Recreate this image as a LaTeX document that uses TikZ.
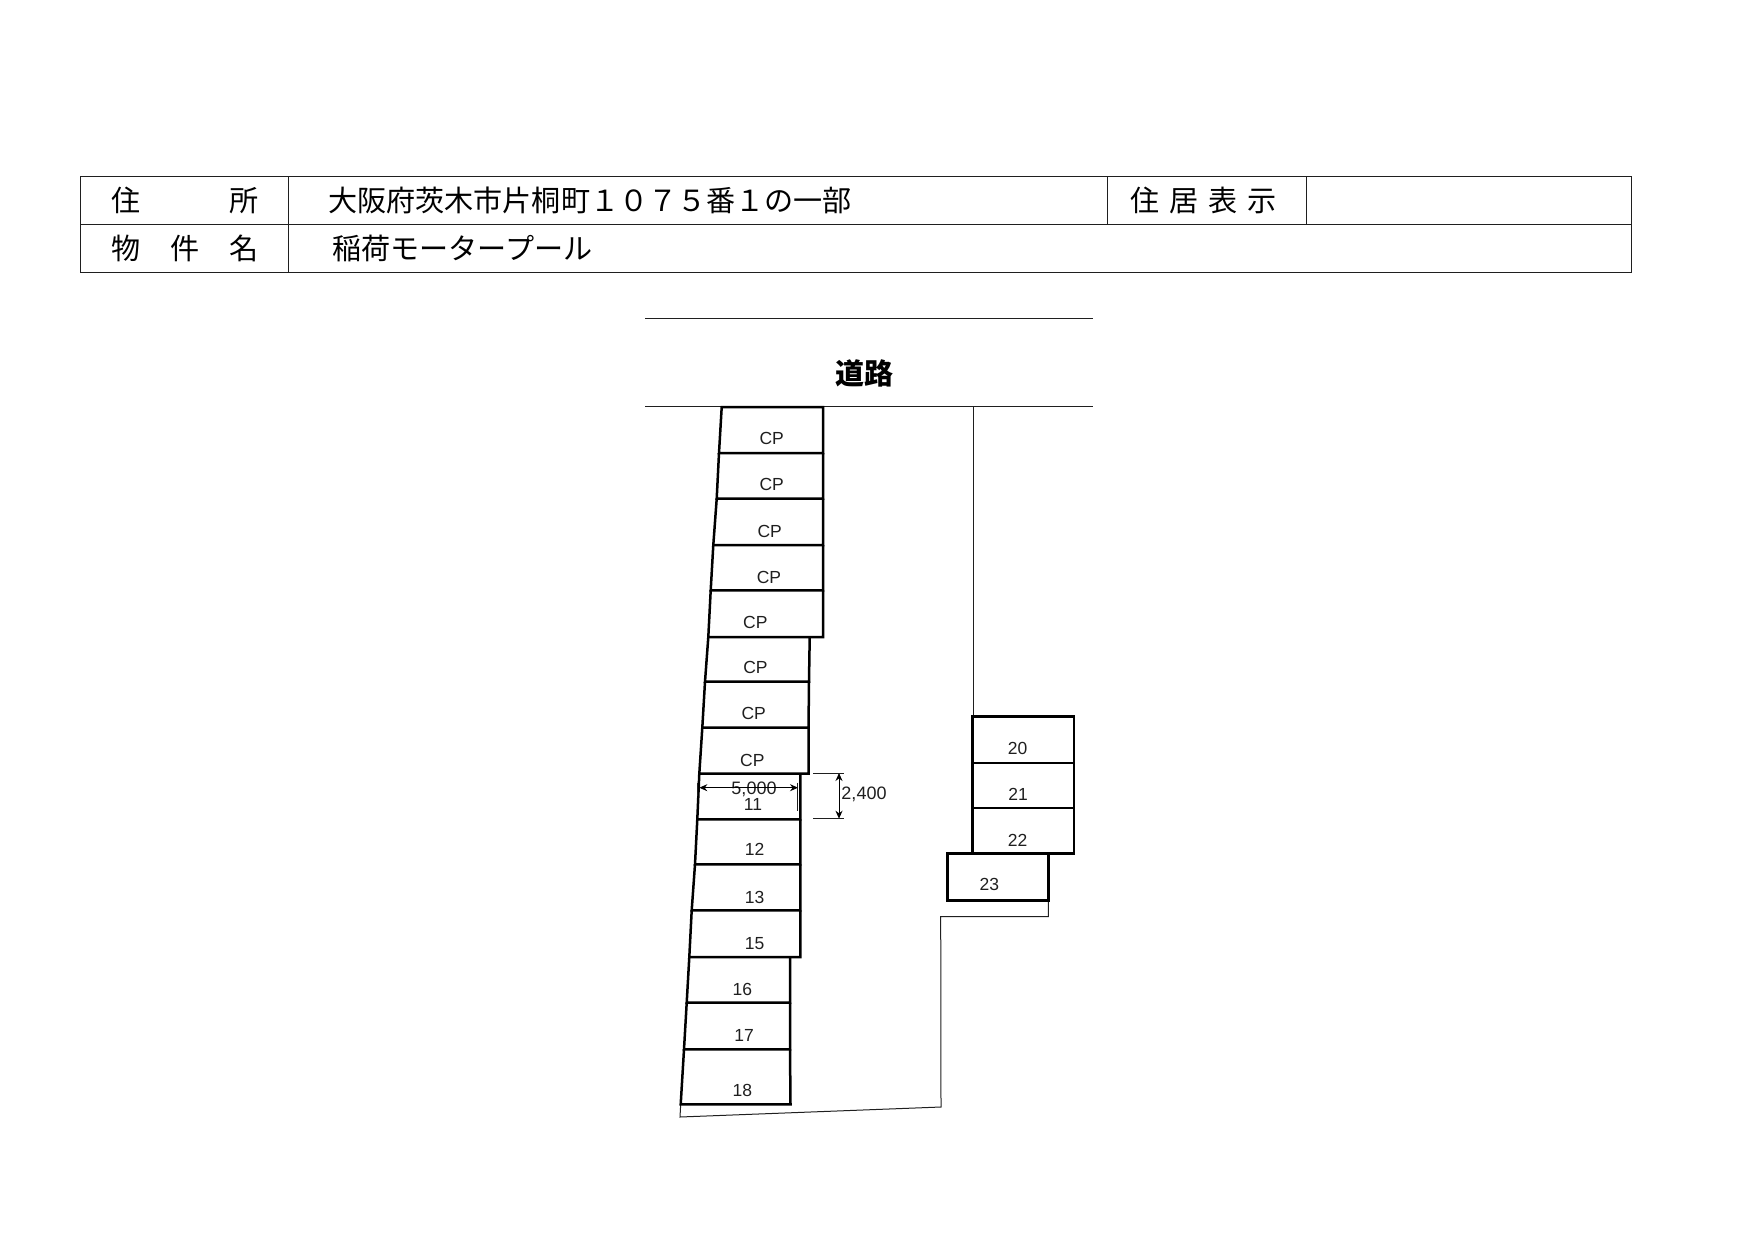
\documentclass[tikz,border=0pt]{standalone}
\usepackage{fontspec}
\setmainfont{Liberation Sans}
\newfontfamily\jpfont{Noto Sans CJK JP}
\usepackage{tikz}
\usetikzlibrary{arrows.meta}
\definecolor{inkline}{gray}{0.12}
\tikzset{
  hline/.style={draw=inkline, line width=1.1pt},
  thinline/.style={draw=inkline, line width=1pt},
  stall/.style={draw=black, line width=2.5pt, line join=miter},
  dimline/.style={draw=inkline, line width=0.9pt},
  dimarrow/.style={draw=black, line width=1pt, {Stealth[length=8pt,width=7pt]}-{Stealth[length=8pt,width=7pt]}},
  headtext/.style={inner sep=0pt, anchor=west, font=\jpfont\fontsize{29.1}{31}\selectfont},
  lot/.style={inner sep=0pt, text=inkline, font=\fontsize{17.5}{19}\selectfont}
}

\begin{document}
\begin{tikzpicture}[x=1pt,y=-1pt]
      \useasboundingbox (0,0) rectangle (1755,1242);
      
      % header table
      \draw[hline] (80.5,176.5) rectangle (1631.5,272.5);
      \draw[hline] (80.5,224.5) -- (1631.5,224.5);
      \draw[hline] (288.5,176.5) -- (288.5,272.5);
      \draw[hline] (1107.5,176.5) -- (1107.5,224.5);
      \draw[hline] (1306.5,176.5) -- (1306.5,224.5);
      
      \node[headtext] (adrhead) at (111,200.5)   {住\hspace{89pt}所};
      \node[headtext] (adrtext) at (328,200.5)   {大阪府茨木市片桐町１０７５番１の一部};
      \node[headtext] (dsphead) at (1130,200.5)  {住\hspace{10pt}居\hspace{10pt}表\hspace{10pt}示};
      \node[headtext] (namhead) at (111,248.5)   {物\hspace{30pt}件\hspace{30pt}名};
      \node[headtext] (namtext) at (332,248.5)   {稲荷モータープール};
      
      % road
      \draw[thinline] (645,318.5) -- (1092.5,318.5);
      \draw[thinline] (645,406.5) -- (1092.5,406.5);
      \node[inner sep=0pt, font=\jpfont\bfseries\fontsize{29}{31}\selectfont] (road) at (864,373) {道路};
      
      \begin{scope}[yshift=-1pt]
      % site boundary
      \coordinate (bndA) at (973.3,405.5);
      \coordinate (bndB) at (973.3,716);
      \coordinate (bndC) at (1048.3,899);
      \coordinate (bndD) at (1048.3,915.7);
      \coordinate (bndE) at (940.7,915.7);
      \coordinate (bndF) at (941,1106);
      \coordinate (bndG) at (680,1116);
      \coordinate (bndH) at (680.7,1103);
      \draw[thinline] (bndA) -- (bndB);
      \draw[thinline] (bndC) -- (bndD) -- (bndE) -- (bndF) -- (bndG) -- (bndH);
      
      % left row
      \draw[stall] (721.7,406) -- (719,452) -- (823,452) -- (823,406) -- cycle;
      \draw[stall] (719,452) -- (716.7,497.7) -- (823,497.7) -- (823,452);
      \draw[stall] (716.7,497.7) -- (713.3,544) -- (823,544) -- (823,497.7);
      \draw[stall] (713.3,544) -- (710.7,589.3) -- (823,589.3) -- (823,544);
      \draw[stall] (710.7,589.3) -- (708.3,636) -- (823,636) -- (823,589.3);
      \draw[stall] (708.3,636) -- (705,680.7) -- (809,680.7) -- (809.7,636);
      \draw[stall] (705,680.7) -- (702.3,726.7) -- (808.5,726.7) -- (809,680.7);
      \draw[stall] (702.3,726.7) -- (699.3,772.7) -- (808.5,772.7) -- (808.5,726.7);
      \draw[stall] (699.3,772.7) -- (697.3,818.3) -- (800.3,818.3) -- (800.3,772.7);
      \draw[stall] (697.3,818.3) -- (695,863.3) -- (800.3,863.3) -- (800.3,818.3);
      \draw[stall] (695,863.3) -- (691.7,909.3) -- (800.3,909.3) -- (800.3,863.3);
      \draw[stall] (691.7,909.3) -- (689.3,956) -- (800.3,956) -- (800.3,909.3);
      \draw[stall] (689.3,956) -- (686.7,1001.7) -- (790,1001.7) -- (790,956);
      \draw[stall] (686.7,1001.7) -- (684,1048.3) -- (790,1048.3) -- (790,1001.7);
      \draw[stall] (684,1048.3) -- (680.7,1103.3) -- (790.5,1103.3) -- (790,1048.3);
      
      % right row
      \draw[stall] (972.7,715.7) rectangle (1074,762);
      \draw[stall] (972.7,762) rectangle (1074,807);
      \draw[stall] (972.7,807) rectangle (1074,852.7);
      \draw[stall] (947.3,852.7) rectangle (1048.3,899.3);
      
      % labels
      \node[lot] (cpa) at (771.7,437.7) {CP};
      \node[lot] (cpb) at (771.7,483.3) {CP};
      \node[lot] (cpc) at (769.7,530)   {CP};
      \node[lot] (cpd) at (769,576)     {CP};
      \node[lot] (cpe) at (755.3,621)   {CP};
      \node[lot] (cpf) at (755.5,666.7) {CP};
      \node[lot] (cpg) at (753.7,712)   {CP};
      \node[lot] (cph) at (752.3,759)   {CP};
      \node[lot] (lotk) at (753,803)    {11};
      \node[lot] (lotl) at (754.7,848.7) {12};
      \node[lot] (lotm) at (754.7,896)  {13};
      \node[lot] (loto) at (754.7,942.3) {15};
      \node[lot] (lotp) at (742.3,988)  {16};
      \node[lot] (lotq) at (744,1034)   {17};
      \node[lot] (lotr) at (742.3,1089.3) {18};
      \node[lot] (lott) at (1017.7,747.3) {20};
      \node[lot] (lotu) at (1018,793.7) {21};
      \node[lot] (lotv) at (1017.7,839.3) {22};
      \node[lot] (lotw) at (989.3,883.3) {23};
      
      % dimensions
      \node[lot,font=\fontsize{18}{19}\selectfont] (widthval) at (754,788) {5,000};
      \node[lot,font=\fontsize{18}{19}\selectfont] (depthval) at (864,793) {2,400};
      \coordinate (wa) at (699.3,786.7);
      \coordinate (wb) at (798,786.7);
      \coordinate (da) at (839,772);
      \coordinate (db) at (839,817.7);
      \draw[dimarrow] (wa) -- (wb);
      \draw[dimarrow] (da) -- (db);
      \draw[dimline] (697.7,781.5) -- (697.7,795);
      \draw[dimline] (797.7,781.5) -- (797.7,810);
      \draw[dimline] (813,772) -- (844,772);
      \draw[dimline] (813,817.7) -- (844,817.7);
      \end{scope}
    \end{tikzpicture}
\end{document}
